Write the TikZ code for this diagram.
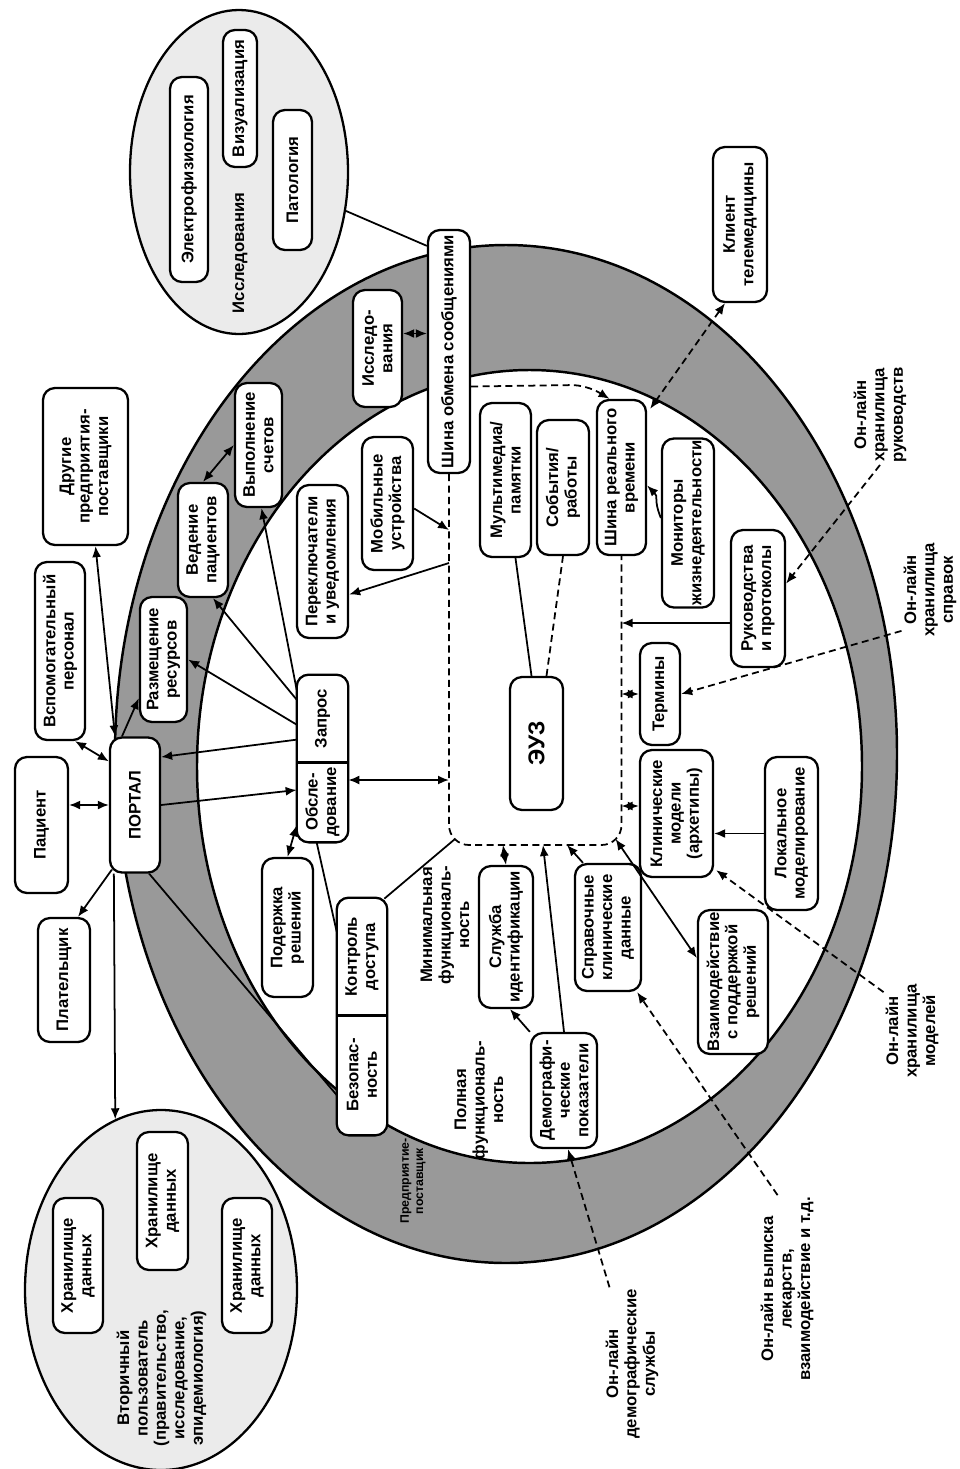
\documentclass[tikz,border=0pt]{standalone}
\usepackage{fontspec}
\setmainfont{Liberation Sans}
\usetikzlibrary{positioning,calc,arrows.meta,shapes.geometric}
\definecolor{ringgray}{gray}{0.6}
\definecolor{stipple}{gray}{0.92}
\newcommand{\bxfont}{\fontsize{9.5}{10.5}\selectfont\bfseries}
\newcommand{\euzfont}{\fontsize{13}{14}\selectfont\bfseries}
\newcommand{\ppfont}{\fontsize{7}{8}\selectfont\bfseries}
\tikzset{
  rbox/.style  = {draw, fill=white, rounded corners=2.4mm, line width=1.3pt,
                  rotate=90, align=center, inner sep=1pt, font=\bxfont},
  cell/.style  = {fill=white, rounded corners=2.4mm, rotate=90, align=center,
                  inner sep=1pt, font=\bxfont},
  sz/.style 2 args = {minimum height=#1*0.2mm, minimum width=#2*0.2mm},
  lbl/.style   = {rotate=90, align=center, inner sep=1pt, font=\bxfont},
  oval/.style  = {ellipse, draw, fill=stipple, line width=1.3pt, inner sep=0pt},
  ringline/.style = {line width=1.4pt},
  link/.style  = {line width=1pt},
  arr/.style   = {link, -{Latex[length=2.2mm,width=1.8mm]}},
  darr/.style  = {link, {Latex[length=2.2mm,width=1.8mm]}-{Latex[length=2.2mm,width=1.8mm]}},
  dsh/.style   = {dash pattern=on 4pt off 2.5pt},
  ehr/.style   = {line width=1pt, dash pattern=on 4pt off 2.5pt},
}
\begin{document}
\begin{tikzpicture}[x=0.2mm,y=-0.2mm]
  \useasboundingbox (0,0) rectangle (960,1469);
  % ring of the enterprise
  \fill[ringgray] (506,754) ellipse [x radius=391, y radius=509];
  \fill[white] (529.5,766.5) ellipse [x radius=332.5, y radius=396.5];
  \draw[ringline] (506,754) ellipse [x radius=391, y radius=509];
  \draw[ringline] (529.5,766.5) ellipse [x radius=332.5, y radius=396.5];

  % outside
  \node[rbox, sz={53}{136}] (pac) at (41.5,825) {Пациент};
  \node[rbox, sz={52}{124}] (plat) at (64,980) {Плательщик};
  \node[rbox, sz={50}{135}] (portal) at (135,805) {ПОРТАЛ};
  \node[rbox, sz={50}{178}] (vsp) at (60,651) {Вспомогательный\\персонал};
  \node[rbox, sz={85}{157}] (drug) at (85.5,466.5) {Другие\\предприятия-\\поставщики};
  \node[rbox, sz={47}{125}] (razm) at (163.5,659.5) {Размещение\\ресурсов};
  \node[rbox, sz={50}{114}] (ved) at (203,540) {Ведение\\пациентов};
  \node[rbox, sz={47}{124}] (vyp) at (258.5,445) {Выполнение\\счетов};

  \node[oval, minimum width=218*0.2mm, minimum height=324*0.2mm] (issl) at (239,172) {};
  \node[rbox, sz={38}{205}] (elf) at (189,179.5) {Электрофизиология};
  \node[rbox, sz={34}{137}] (viz) at (240,98.5) {Визуализация};
  \node[lbl] (isslt) at (240,253) {Исследования};
  \node[rbox, sz={39}{140}] (pat) at (292.5,180) {Патология};

  \node[rbox, sz={49}{117}] (issv) at (377.5,348.5) {Исследо-\\вания};
  \node[rbox, sz={42}{243}] (shob) at (449,351.5) {Шина обмена сообщениями};
  \node[rbox, sz={54}{155}] (klient) at (740,224.5) {Клиент\\телемедицины};

  \node[oval, minimum width=272*0.2mm, minimum height=360*0.2mm] (sec) at (161,1290) {};
  \node[rbox, sz={50}{135}] (hr1) at (78,1265.5) {Хранилище\\данных};
  \node[rbox, sz={51}{138}] (hr2) at (162.5,1201) {Хранилище\\данных};
  \node[rbox, sz={50}{135}] (hr3) at (247,1265.5) {Хранилище\\данных};
  \node[lbl] (sect) at (161.5,1378) {Вторичный\\пользователь\\(правительство,\\исследование,\\эпидемиология)};

  % inside the enterprise
  \node[rbox, sz={51}{133}] (mob) at (387.5,503.5) {Мобильные\\устройства};
  \node[rbox, sz={51}{153}] (per) at (322.5,561.5) {Переключатели\\и уведомления};
  \node[cell, sz={51}{87}] (zap) at (322.5,718.5) {Запрос};
  \node[cell, sz={51}{80}] (obs) at (322.5,802) {Обсле-\\дование};
  \draw[line width=1.3pt, rounded corners=2.4mm] (zap.north east) rectangle (obs.south west);
  \draw[line width=1.3pt] (zap.north west) -- (zap.south west);
  \node[cell, sz={50}{117}] (kd) at (362,956.5) {Контроль\\доступа};
  \node[cell, sz={50}{120}] (bez) at (362,1075) {Безопас-\\ность};
  \draw[line width=1.3pt, rounded corners=2.4mm] (kd.north east) rectangle (bez.south west);
  \draw[line width=1.3pt] (kd.north west) -- (kd.south west);
  \node[rbox, sz={51}{139}] (pod) at (287.5,927.5) {Подержка\\решений};

  \node[rbox, sz={53}{133}, font=\euzfont] (euz) at (536.5,743.5) {ЭУЗ};
  \node[rbox, sz={51}{154}] (mm) at (505.5,480) {Мультимедиа/\\памятки};
  \node[rbox, sz={52}{135}] (sob) at (563,487.5) {События/\\работы};
  \node[rbox, sz={49}{155}] (shrv) at (621.5,477.5) {Шина реального\\времени};
  \node[rbox, sz={52}{166}] (mon) at (688,523) {Мониторы\\жизнедеятельности};
  \node[rbox, sz={54}{137}] (ruk) at (758,598.5) {Руководства\\и протоколы};
  \node[rbox, sz={40}{102}] (term) at (660,694) {Термины};
  \node[rbox, sz={73}{127}] (klm) at (676.5,813.5) {Клинические\\модели\\(архетипы)};
  \node[rbox, sz={53}{153}] (lok) at (791.5,833.5) {Локальное\\моделирование};
  \node[rbox, sz={66}{127}] (sprav) at (608,927.5) {Справочные\\клинические\\данные};
  \node[rbox, sz={70}{144}] (vzai) at (733,982) {Взаимодействие\\с поддержкой\\решений};
  \node[rbox, sz={54}{142}] (sid) at (506,937) {Служба\\идентификации};
  \node[rbox, sz={66}{115}] (dem) at (564,1090.5) {Демографи-\\ческие\\показатели};

  \node[lbl] (minf) at (445,925) {Минимальная\\функциональ-\\ность};
  \node[lbl] (fullf) at (479,1100) {Полная\\функциональ-\\ность};
  \node[lbl, font=\ppfont] (pp) at (413,1181) {Предприятие-\\поставщик};

  % on-line services
  \node[lbl] (onruk) at (880,415) {Он-лайн\\хранилища\\руководств};
  \node[lbl] (onspr) at (930,590) {Он-лайн\\хранилища\\справок};
  \node[lbl] (onmod) at (912,1031) {Он-лайн\\хранилища\\моделей};
  \node[lbl] (onlek) at (787,1289) {Он-лайн выписка\\лекарств,\\взаимодействие и т.д.};
  \node[lbl] (ondem) at (632,1364) {Он-лайн\\демографические\\службы};

  % EHR boundary
  \coordinate (ehrS) at (0,845);
  \draw[ehr, rounded corners=4mm] (shob.west) -- (shob.west |- ehrS) -- (shrv.west |- ehrS) -- (shrv.west);
  \coordinate (bl1) at (449,530);
  \coordinate (bl2) at (449,563);
  \coordinate (bl3) at (449,780);
  \coordinate (blc) at (455,839);
  \coordinate (bb1) at (503,845);
  \coordinate (bb2) at (543,845);
  \coordinate (bb3) at (567,845);
  \coordinate (brc) at (615.6,839);
  \coordinate (br1) at (621.5,623);
  \coordinate (br2) at (621.5,694);
  \coordinate (br3) at (621.5,806);

  % portal links
  \draw[darr] (pac.south |- portal.north) -- (portal.north);
  \draw[arr] ($(portal.north west)+(3,-4)$) -- ($(plat.east)+(14,0)$);
  \draw[darr] ($(vsp.west)+(15,0)$) -- ($(portal.north east)+(0,25)$);
  \draw[darr] ($(drug.west)+(10,0)$) -- ($(portal.east)+(-20,0)$);
  \draw[arr] ($(portal.east)+(-13,0)$) -- ($(razm.north west)+(0,-25)$);
  \draw[arr] ($(portal.north west)+(5,0)$) -- (sec.105);
  \draw[darr] (ved.east) -- (vyp.north);

  % query fan
  \draw[arr] ($(zap.north east)+(0,15)$) -- ($(vyp.west)+(3,0)$);
  \draw[arr] ($(zap.north east)+(0,25)$) -- ($(ved.west)+(10,0)$);
  \draw[arr] ($(zap.north east)+(0,50)$) -- (razm.south);
  \draw[arr] ($(zap.north east)+(0,65)$) -- ($(portal.south)+(0,-48)$);
  \draw[arr] (portal.south) -- ($(obs.north)+(0,-12)$);
  \draw[darr] ($(obs.south)+(0,-22)$) -- (bl3);
  \draw[darr] (pod.east) -- ($(obs.north west)+(0,-17)$);
  \draw[link] ($(obs.north west)+(20,0)$) -- ($(kd.north)+(0,-25)$);
  \draw[link] (blc) -- ($(kd.south east)+(-3,1)$);
  \draw[link] ($(portal.south west)+(-12,0)$) -- ($(bez.north)+(0,20)$);
  \draw[arr] ($(mob.south)+(0,5)$) -- (bl1);
  \draw[arr] (bl2) -- ($(per.south)+(0,33)$);

  % EHR links
  \draw[link] ($(euz.east)+(-5,0)$) -- ($(mm.west)+(10,0)$);
  \draw[link, dsh] ($(euz.east)+(10,0)$) -- (sob.west);
  \draw[darr] (bb1) -- (sid.east);
  \draw[arr] (dem.east) -- (bb2);
  \draw[arr] (dem.north east) -- ($(sid.west)+(4,0)$);
  \draw[arr] ($(sprav.east)+(-25,0)$) -- (bb3);
  \draw[darr] (brc) -- ($(vzai.north)+(0,-24)$);
  \draw[arr] (ruk.north |- br1) -- (br1);
  \draw[darr] (br2) -- (term.north);
  \draw[darr] (br3) -- (klm.north |- br3);
  \draw[arr] (lok.north) -- (klm.south |- lok.north);
  \draw[arr] ($(mon.north)+(0,-5)$) .. controls +(-8,-20) and +(12,12) .. ($(shrv.south)+(0,8)$);
  \draw[arr, dsh, rounded corners=3mm] ($(shob.south)+(0,35)$) -- ($(shrv.east)+(-35,-14)$) -- ($(shrv.east)+(-12,0)$);
  \draw[link] (issl.-20) -- ($(shob.north east)+(0,17)$);
  \draw[darr] ($(issv.south)+(0,-15)$) -- ($(shob.north)+(0,-18)$);

  % on-line links
  \draw[darr, dsh] ($(klient.west)+(-15,0)$) -- ($(shrv.south east)+(3,10)$);
  \draw[arr, dsh] (onruk.west) -- ($(ruk.south)+(0,-15)$);
  \draw[arr, dsh] ($(onspr.north west)+(0,-8)$) -- (term.south);
  \draw[arr, dsh] ($(onmod.north east)+(0,10)$) -- ($(klm.south west)+(2,-8)$);
  \draw[arr, dsh] ($(onlek.north east)+(19,0)$) -- ($(sprav.south west)+(-5,0)$);
  \draw[arr, dsh] ($(ondem.north east)+(6,0)$) -- ($(dem.west)+(4,0)$);
\end{tikzpicture}
\end{document}
